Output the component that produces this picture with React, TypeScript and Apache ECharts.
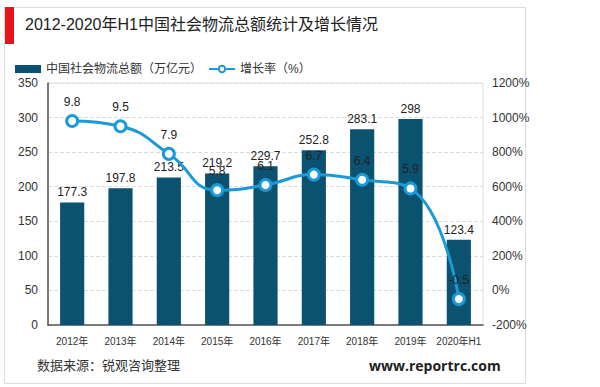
import React, { useEffect, useRef } from "react";
import * as echarts from "echarts";

const categories = ["2012年", "2013年", "2014年", "2015年", "2016年", "2017年", "2018年", "2019年", "2020年H1"];
const totalValues = [177.3, 197.8, 213.5, 219.2, 229.7, 252.8, 283.1, 298, 123.4];
const growthValues = [9.8, 9.5, 7.9, 5.8, 6.1, 6.7, 6.4, 5.9, -0.5];
const titleText = "2012-2020年H1中国社会物流总额统计及增长情况";
const barName = "中国社会物流总额（万亿元）";
const lineName = "增长率（%）";
const sourceText = "数据来源：锐观咨询整理";
const siteText = "www.reportrc.com";

export default function App() {
  const ref = useRef<HTMLDivElement>(null);
  useEffect(() => {
    if (!ref.current) return;
    const chart = echarts.init(ref.current, null, { renderer: "svg" });
    const font = "'Liberation Sans', 'Noto Sans CJK SC', sans-serif";
    chart.setOption({
      animation: false,
      backgroundColor: "#ffffff",
      textStyle: { fontFamily: font },
      graphic: [
        {
          type: "rect",
          shape: { x: 4.5, y: 7.5, width: 521, height: 376 },
          style: { fill: "none", stroke: "#dcdcdc", lineWidth: 1 },
          silent: true,
        },
        {
          type: "rect",
          shape: { x: 5, y: 7, width: 9, height: 37 },
          style: { fill: "#e8141c" },
        },
        {
          type: "text",
          left: 25,
          top: 16,
          style: { text: titleText, fontSize: 16, fill: "#222", fontFamily: font },
        },
        {
          type: "text",
          left: 37,
          top: 359,
          style: { text: sourceText, fontSize: 13, fill: "#333", fontFamily: font },
        },
        {
          type: "text",
          left: 369,
          top: 358,
          style: { text: siteText, fontSize: 14, fontWeight: "bold", fill: "#222", fontFamily: "'Open Sans', 'Liberation Sans', sans-serif" },
        },
      ],
      legend: {
        left: 10,
        top: 58,
        itemGap: 6,
        itemWidth: 26,
        itemHeight: 8,
        textStyle: { fontSize: 12, color: "#333" },
        data: [
          { name: barName, icon: "rect" },
          { name: lineName },
        ],
      },
      grid: {
        left: 48,
        right: 117,
        top: 83,
        bottom: 62,
        show: true,
        borderColor: "#e0e0e0",
        borderWidth: 1,
      },
      xAxis: {
        type: "category",
        data: categories,
        axisLine: { lineStyle: { color: "#555", width: 1.5 } },
        axisTick: { show: false },
        axisLabel: { fontSize: 10, color: "#333", margin: 11, interval: 0 },
      },
      yAxis: [
        {
          type: "value",
          min: 0,
          max: 350,
          interval: 50,
          axisLine: { show: true, lineStyle: { color: "#555", width: 1.5 } },
          axisTick: { show: false },
          axisLabel: { fontSize: 12, color: "#333", margin: 10 },
          splitLine: { lineStyle: { color: "#dddddd", type: "dashed" } },
        },
        {
          type: "value",
          min: -2,
          max: 12,
          interval: 2,
          axisLine: { show: false },
          axisTick: { show: false },
          axisLabel: {
            fontSize: 12,
            color: "#333",
            margin: 9,
            formatter: (v: number) => Math.round(v * 100) + "%",
          },
          splitLine: { show: false },
        },
      ],
      series: [
        {
          name: barName,
          type: "bar",
          data: totalValues,
          barWidth: "50%",
          itemStyle: { color: "#0b5170" },
          label: { show: true, position: "top", fontSize: 12, color: "#222", distance: 4 },
        },
        {
          name: lineName,
          type: "line",
          yAxisIndex: 1,
          data: growthValues,
          smooth: true,
          symbol: "circle",
          symbolSize: 11,
          lineStyle: { color: "#1a9ad6", width: 3 },
          itemStyle: { color: "#ffffff", borderColor: "#1a9ad6", borderWidth: 3 },
          label: { show: true, position: "top", fontSize: 12, color: "#222", distance: 6 },
          z: 5,
        },
      ],
    });
    return () => chart.dispose();
  }, []);
  return (
    <div
      ref={ref}
      style={{ position: "fixed", left: 0, top: 0, width: 600, height: 387 }}
    />
  );
}
